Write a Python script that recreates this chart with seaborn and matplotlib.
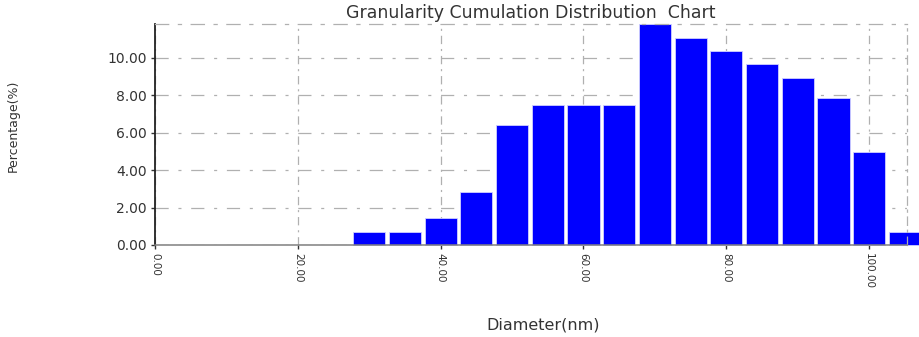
import matplotlib
matplotlib.use("Agg")
import matplotlib.pyplot as plt
import seaborn as sns

# bin centres (nm) and percentage per bin
diameter = [30, 35, 40, 45, 50, 55, 60, 65, 70, 75, 80, 85, 90, 95, 100, 105]
percentage = [0.71, 0.71, 1.43, 2.85, 6.42, 7.49, 7.49, 7.49, 11.8, 11.05,
              10.34, 9.66, 8.91, 7.84, 4.99, 0.71]
x_ticks = [0, 20, 40, 60, 80, 100]
y_ticks = [0, 2, 4, 6, 8, 10]

sns.set_style("white")
plt.rcParams['font.family'] = ['DejaVu Sans']
plt.rcParams['lines.scale_dashes'] = False

fig = plt.figure(figsize=(9.19, 3.37), dpi=100)
ax = fig.add_axes([155 / 919, 1 - 245 / 337, (907 - 155) / 919, (245 - 24) / 337])

sns.barplot(x=diameter, y=percentage, native_scale=True, width=0.9,
            color='#0000ff', saturation=1, edgecolor='#d0d0ff', linewidth=0.6, ax=ax)
for p in ax.patches:
    p.set_clip_on(False)

ax.set_xlim(0, 105.3)
ax.set_ylim(0, 11.8)

grid_h = (0, (9.5, 7, 2.2, 7))
grid_v = (0, (6, 3.5, 1.5, 3.5))
ax.set_axisbelow(True)
ax.yaxis.grid(True, color='#b0b0b0', linewidth=0.9, linestyle=grid_h)
ax.xaxis.grid(True, color='#b0b0b0', linewidth=0.9, linestyle=grid_v)

ax.set_xticks(x_ticks)
ax.set_xticklabels([f"{v:.2f}" for v in x_ticks], rotation=-90, fontsize=7.5, color='#333333')
ax.set_yticks(y_ticks)
ax.set_yticklabels([f"{v:.2f}" for v in y_ticks], fontsize=10, color='#333333')
ax.tick_params(axis='both', direction='out', length=3, width=1, color='#333333', pad=3)
ax.tick_params(axis='both', which='both', bottom=True, left=True)

ax.spines['left'].set_color('#222222')
ax.spines['left'].set_linewidth(1.3)
ax.spines['bottom'].set_color('#808080')
ax.spines['bottom'].set_linewidth(1.1)
for side in ['top', 'right']:
    ax.spines[side].set_color('#b0b0b0')
    ax.spines[side].set_linewidth(0.9)
ax.spines['top'].set_linestyle(grid_h)
ax.spines['right'].set_linestyle(grid_v)

ax.set_title('Granularity Cumulation Distribution  Chart', fontsize=12.5, color='#333333', pad=4)
ax.set_xlabel('Diameter(nm)', fontsize=11.5, color='#333333')
ax.set_ylabel('Percentage(%)', fontsize=9, color='#333333')
ax.xaxis.set_label_coords(0.516, -0.33)
ax.yaxis.set_label_coords(-0.18, 0.54)

fig.savefig('out.png', dpi=100)
